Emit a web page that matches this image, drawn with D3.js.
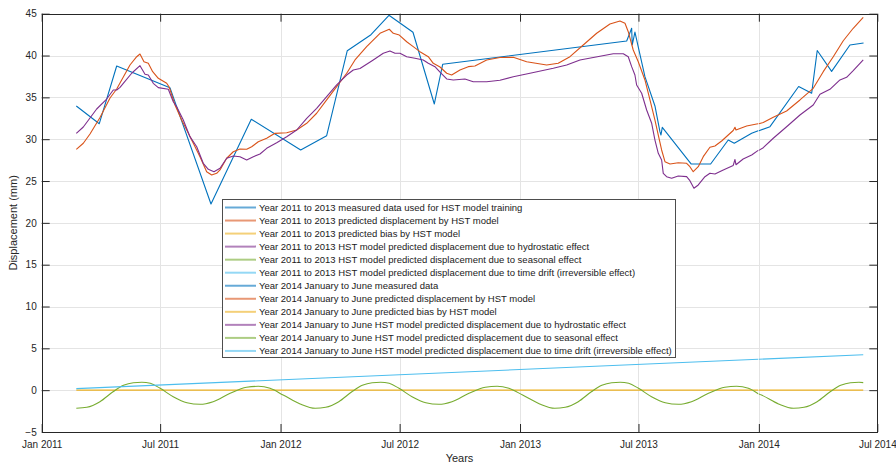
<!DOCTYPE html>
<html>
<head>
<meta charset="utf-8">
<script src="https://cdn.jsdelivr.net/npm/d3@7/dist/d3.min.js"></script>
<style>
  html, body { margin: 0; padding: 0; background: #fff; }
  svg { display: block; font-family: "Liberation Sans", Arial, Helvetica, sans-serif; }
</style>
</head>
<body>
<svg id="chart" width="896" height="465"></svg>
<script>
// Time is stored as days since 1 Jan 2011; displacement in mm.
const originDate = new Date(2011, 0, 1);

const xTickDates = ["2011-01-01", "2011-07-01", "2012-01-01", "2012-07-01", "2013-01-01", "2013-07-01", "2014-01-01", "2014-07-01"];
const xTickLabels = ["Jan 2011", "Jul 2011", "Jan 2012", "Jul 2012", "Jan 2013", "Jul 2013", "Jan 2014", "Jul 2014"];
const yTicks = [-5, 0, 5, 10, 15, 20, 25, 30, 35, 40, 45];

// Measured displacement, 2011-2013 (training set)
const measured1113 = [
  [52.9, 33.97], [88.0, 31.85], [114.6, 38.75], [196.0, 36.16], [258.7, 22.25],
  [320.3, 32.38], [395.8, 28.71], [435.5, 30.42], [467.0, 40.58], [503.2, 42.49],
  [530.7, 44.81], [567.4, 42.78], [600.0, 34.21], [612.8, 38.95], [894.0, 41.74],
  [901.6, 43.26], [902.5, 41.26], [906.6, 42.81], [921.9, 37.47], [937.2, 33.97],
  [944.8, 30.90], [946.4, 30.50], [948.4, 31.42], [992.7, 27.03], [1022.3, 27.03],
  [1049.2, 29.90], [1058.4, 29.51], [1085.0, 30.70], [1095.0, 31.00]
];
// Measured displacement, January-June 2014
const measured14 = [
  [1096.0, 31.00], [1113.0, 31.50], [1156.8, 36.30], [1176.7, 35.50], [1185.2, 40.60],
  [1207.2, 38.10], [1235.2, 41.26], [1256.0, 41.50]
];

// HST predicted displacement
const predicted1113 = [
  [52.9, 28.79], [63.6, 29.51], [73.8, 30.62], [89.1, 32.59], [104.4, 34.92], [114.6, 36.00],
  [122.2, 37.08], [134.9, 38.87], [145.2, 39.86], [150.2, 40.18], [156.3, 39.26], [162.9, 39.07],
  [169.6, 38.07], [178.2, 37.28], [191.0, 36.68], [195.0, 36.20], [203.7, 34.09], [213.9, 32.29],
  [221.6, 31.10], [231.7, 29.51], [241.9, 27.91], [252.1, 26.11], [259.8, 25.72], [267.4, 25.92],
  [272.5, 26.32], [282.7, 27.72], [292.8, 28.50], [303.0, 28.83], [313.3, 28.79], [320.9, 29.10],
  [331.0, 29.70], [343.8, 30.11], [356.5, 30.70], [374.4, 30.77], [389.7, 31.10], [405.0, 31.90],
  [420.2, 33.10], [435.5, 34.69], [450.8, 36.28], [466.1, 37.88], [478.8, 39.47], [496.6, 41.06],
  [517.0, 42.66], [531.2, 43.14], [537.3, 42.66], [546.5, 42.45], [557.8, 41.65], [567.8, 41.06],
  [578.1, 40.46], [590.8, 39.86], [598.4, 39.07], [608.7, 38.63], [618.9, 37.88], [626.5, 37.67],
  [639.2, 38.27], [651.9, 38.67], [662.1, 38.75], [680.0, 39.47], [700.3, 39.77], [720.7, 39.79],
  [741.1, 39.26], [771.7, 38.87], [789.4, 39.07], [807.3, 39.86], [827.6, 41.26], [848.1, 42.66],
  [868.4, 43.77], [883.7, 44.13], [891.4, 43.85], [896.4, 42.85], [904.0, 40.66], [911.7, 39.26],
  [921.9, 37.08], [929.6, 34.69], [937.2, 32.29], [942.3, 30.50], [947.4, 28.71], [952.5, 27.31],
  [960.2, 27.03], [972.8, 27.19], [985.6, 27.12], [990.6, 26.71], [995.7, 26.11], [1003.4, 26.71],
  [1011.0, 27.91], [1021.2, 29.03], [1028.9, 29.19], [1039.1, 29.78], [1049.2, 30.50], [1056.8, 31.04],
  [1059.5, 31.42], [1061.0, 31.10], [1077.3, 31.58], [1092.6, 31.82], [1095.0, 31.85]
];
const predicted14 = [
  [1096.0, 31.85], [1102.7, 31.99], [1118.0, 32.62], [1138.4, 33.37], [1158.8, 34.69],
  [1179.1, 36.08], [1194.4, 38.07], [1209.7, 39.86], [1225.0, 41.77], [1240.2, 43.26], [1255.5, 44.57]
];

// HST predicted bias (constant term)
const bias1113 = [[52.9, 0], [1095.0, 0]];
const bias14 = [[1096.0, 0], [1255.5, 0]];

// Hydrostatic component
const hydro1113 = [
  [52.9, 30.70], [63.6, 31.46], [73.8, 32.53], [84.0, 33.61], [99.3, 34.80], [109.4, 35.88],
  [114.6, 35.88], [119.7, 36.20], [124.7, 36.68], [137.5, 37.88], [150.2, 38.79], [157.9, 37.76],
  [162.9, 37.67], [170.5, 36.68], [178.2, 36.16], [193.5, 35.96], [201.1, 34.48], [206.3, 33.88],
  [216.4, 32.29], [226.6, 30.30], [236.9, 29.10], [246.9, 27.12], [254.6, 26.40], [263.3, 26.11],
  [272.5, 26.52], [282.7, 27.72], [292.8, 27.99], [303.0, 27.91], [313.3, 27.51], [323.4, 27.91],
  [333.6, 28.23], [343.8, 28.91], [359.1, 29.58], [374.4, 30.30], [389.7, 31.10], [405.0, 32.50],
  [420.2, 33.69], [435.5, 35.10], [450.8, 36.48], [466.1, 37.67], [476.2, 38.27], [486.4, 38.45],
  [506.7, 39.47], [522.0, 40.27], [532.2, 40.54], [539.9, 40.27], [547.5, 40.27], [557.8, 39.86],
  [570.4, 39.67], [583.1, 39.47], [590.8, 39.07], [601.0, 38.67], [608.7, 38.03], [618.9, 37.20],
  [629.0, 37.08], [646.8, 37.20], [659.5, 36.87], [680.0, 36.87], [700.3, 37.04], [720.7, 37.47],
  [746.2, 37.88], [781.8, 38.47], [802.3, 38.87], [822.6, 39.47], [853.2, 39.92], [873.5, 40.22],
  [888.8, 40.22], [896.4, 39.86], [901.6, 38.67], [906.6, 37.67], [909.2, 36.48], [916.9, 35.49],
  [924.5, 33.49], [932.2, 31.90], [937.2, 29.90], [942.3, 28.31], [947.4, 27.51], [949.9, 25.92],
  [955.0, 25.52], [962.7, 25.33], [972.8, 25.60], [985.6, 25.52], [990.6, 25.04], [996.8, 24.13],
  [1003.4, 24.53], [1013.6, 25.52], [1021.2, 25.92], [1028.9, 25.84], [1041.6, 26.32], [1056.8, 26.86],
  [1059.5, 27.57], [1061.0, 26.95], [1072.0, 27.63], [1085.0, 28.11], [1095.0, 28.66]
];
const hydro14 = [
  [1096.0, 28.66], [1102.7, 28.98], [1118.0, 30.11], [1138.4, 31.49], [1158.8, 32.89],
  [1179.1, 34.09], [1189.4, 35.37], [1204.6, 35.96], [1219.9, 37.08], [1230.1, 37.40],
  [1240.2, 38.19], [1255.5, 39.47]
];

// Seasonal component
const seasonal1113 = [
  [52.9, -2.17], [69, -2.05], [89, -1.38], [109, -0.19], [125, 0.58], [140, 0.89], [153, 0.94],
  [166, 0.82], [181, 0.22], [201, -0.78], [222, -1.50], [242, -1.69], [262, -1.38], [288, -0.38],
  [313, 0.34], [331, 0.46], [349, 0.22], [369, -0.58], [395, -1.65], [418, -2.17], [434, -2.05],
  [454, -1.38], [474, -0.19], [490, 0.58], [505, 0.89], [518, 0.94], [531, 0.82], [546, 0.22],
  [566, -0.78], [587, -1.50], [607, -1.69], [627, -1.38], [653, -0.38], [678, 0.34], [696, 0.46],
  [714, 0.22], [735, -0.58], [761, -1.65], [784, -2.17], [800, -2.05], [820, -1.38], [840, -0.19],
  [856, 0.58], [871, 0.89], [884, 0.94], [897, 0.82], [912, 0.22], [932, -0.78], [953, -1.50],
  [973, -1.69], [993, -1.38], [1019, -0.38], [1044, 0.34], [1062, 0.46], [1080, 0.22], [1095, -0.42]
];
const seasonal14 = [
  [1096, -0.45], [1100, -0.58], [1126, -1.65], [1149, -2.17], [1165, -2.05], [1185, -1.38],
  [1205, -0.19], [1221, 0.58], [1236, 0.89], [1249, 0.94], [1255.5, 0.90]
];

// Irreversible time drift
const drift1113 = [[52.9, 0.18], [1095.0, 3.70]];
const drift14 = [[1096.0, 3.70], [1255.5, 4.24]];

const colors = {
  blue: "#0072BD", orange: "#D95319", yellow: "#EDB120",
  purple: "#7E2F8E", green: "#77AC30", cyan: "#4DBEEE"
};

const seriesList = [
  { name: "Year 2011 to 2013 measured data used for HST model training", data: measured1113, color: colors.blue, curve: d3.curveLinear },
  { name: "Year 2011 to 2013 predicted displacement by HST model", data: predicted1113, color: colors.orange, curve: d3.curveLinear },
  { name: "Year 2011 to 2013 predicted bias by HST model", data: bias1113, color: colors.yellow, curve: d3.curveLinear },
  { name: "Year 2011 to 2013 HST model predicted displacement due to hydrostatic effect", data: hydro1113, color: colors.purple, curve: d3.curveLinear },
  { name: "Year 2011 to 2013 HST model predicted displacement due to seasonal effect", data: seasonal1113, color: colors.green, curve: d3.curveMonotoneX },
  { name: "Year 2011 to 2013 HST model predicted displacement due to time drift (irreversible effect)", data: drift1113, color: colors.cyan, curve: d3.curveLinear },
  { name: "Year 2014 January to June measured data", data: measured14, color: colors.blue, curve: d3.curveLinear },
  { name: "Year 2014 January to June predicted displacement by HST model", data: predicted14, color: colors.orange, curve: d3.curveLinear },
  { name: "Year 2014 January to June predicted bias by HST model", data: bias14, color: colors.yellow, curve: d3.curveLinear },
  { name: "Year 2014 January to June HST model predicted displacement due to hydrostatic effect", data: hydro14, color: colors.purple, curve: d3.curveLinear },
  { name: "Year 2014 January to June HST model predicted displacement due to seasonal effect", data: seasonal14, color: colors.green, curve: d3.curveMonotoneX },
  { name: "Year 2014 January to June HST model predicted displacement due to time drift (irreversible effect)", data: drift14, color: colors.cyan, curve: d3.curveLinear }
];

const width = 896, height = 465;
const margin = { top: 13.7, right: 18.7, bottom: 33, left: 41.7 };
const x0 = margin.left, x1 = width - margin.right;
const y0 = height - margin.bottom, y1 = margin.top;

const toDate = d => new Date(originDate.getTime() + d * 864e5);
const parse = d3.timeParse("%Y-%m-%d");

const x = d3.scaleTime()
  .domain([parse("2011-01-01"), parse("2014-07-01")])
  .range([x0, x1]);
const y = d3.scaleLinear().domain([-5, 45]).range([y0, y1]);

const svg = d3.select("#chart");
const tickLen = 8;
const axisColor = "#262626";

// Grid
const grid = svg.append("g").attr("class", "grid");
grid.selectAll("line.gx").data(xTickDates.slice(1, -1)).join("line")
  .attr("x1", d => Math.round(x(parse(d))) + 0.5).attr("x2", d => Math.round(x(parse(d))) + 0.5)
  .attr("y1", y1).attr("y2", y0)
  .attr("stroke", "#e4e4e4").attr("stroke-width", 1);
grid.selectAll("line.gy").data(yTicks.slice(1, -1)).join("line")
  .attr("x1", x0).attr("x2", x1)
  .attr("y1", d => Math.round(y(d)) + 0.5).attr("y2", d => Math.round(y(d)) + 0.5)
  .attr("stroke", "#e4e4e4").attr("stroke-width", 1);

// Data lines
const plot = svg.append("g");
seriesList.forEach(s => {
  const line = d3.line()
    .x(d => x(toDate(d[0])))
    .y(d => y(d[1]))
    .curve(s.curve);
  plot.append("path")
    .datum(s.data)
    .attr("d", line)
    .attr("fill", "none")
    .attr("stroke", s.color)
    .attr("stroke-width", 1.1)
    .attr("stroke-linejoin", "round");
});

// Axes (box with inward ticks on all four sides)
const xBottom = d3.axisBottom(x)
  .tickValues(xTickDates.map(parse))
  .tickFormat((d, i) => xTickLabels[i])
  .tickSizeInner(-tickLen).tickSizeOuter(0).tickPadding(8.5);
const xTop = d3.axisTop(x)
  .tickValues(xTickDates.map(parse))
  .tickFormat("").tickSizeInner(-tickLen).tickSizeOuter(0);
const yLeft = d3.axisLeft(y)
  .tickValues(yTicks).tickFormat(d3.format("d"))
  .tickSizeInner(-tickLen).tickSizeOuter(0).tickPadding(5);
const yRight = d3.axisRight(y)
  .tickValues(yTicks).tickFormat("").tickSizeInner(-tickLen).tickSizeOuter(0);

function styleAxis(g) {
  g.select(".domain").remove();
  g.selectAll(".tick line").attr("stroke", axisColor);
  g.selectAll(".tick text").attr("fill", axisColor).attr("font-size", 10)
    .attr("font-family", "Liberation Sans, Arial, sans-serif");
}

svg.append("g").attr("transform", `translate(0,${y0})`).call(xBottom).call(styleAxis);
svg.append("g").attr("transform", `translate(0,${y1})`).call(xTop).call(styleAxis);
svg.append("g").attr("transform", `translate(${x0},0)`).call(yLeft).call(styleAxis);
svg.append("g").attr("transform", `translate(${x1},0)`).call(yRight).call(styleAxis);

svg.append("rect")
  .attr("x", Math.round(x0) + 0.5).attr("y", Math.round(y1) + 0.5)
  .attr("width", Math.round(x1) - Math.round(x0)).attr("height", Math.round(y0) - Math.round(y1))
  .attr("fill", "none").attr("stroke", axisColor).attr("stroke-width", 1);

// Axis titles
svg.append("text")
  .attr("x", (x0 + x1) / 2).attr("y", 462)
  .attr("text-anchor", "middle").attr("font-size", 11).attr("fill", axisColor)
  .text("Years");
svg.append("text")
  .attr("transform", `translate(17,${(y0 + y1) / 2}) rotate(-90)`)
  .attr("text-anchor", "middle").attr("font-size", 11).attr("fill", axisColor)
  .text("Displacement (mm)");

// Legend
const legend = { left: 222, top: 199, width: 453, height: 158, rowStart: 8.5, rowGap: 13.04 };
const lg = svg.append("g").attr("transform", `translate(${legend.left},${legend.top})`);
lg.append("rect")
  .attr("x", 0.5).attr("y", 0.5).attr("width", legend.width).attr("height", legend.height)
  .attr("fill", "#fff").attr("stroke", "#4d4d4d").attr("stroke-width", 1);
const rows = lg.selectAll("g.row").data(seriesList).join("g")
  .attr("transform", (d, i) => `translate(0,${legend.rowStart + i * legend.rowGap})`);
rows.append("line")
  .attr("x1", 3).attr("x2", 34).attr("y1", 0).attr("y2", 0)
  .attr("stroke", d => d.color).attr("stroke-width", 2).attr("stroke-opacity", 0.6);
rows.append("text")
  .attr("x", 37).attr("y", 3.4)
  .attr("font-size", 9.5).attr("fill", "#1a1a1a")
  .text(d => d.name);
</script>
</body>
</html>
